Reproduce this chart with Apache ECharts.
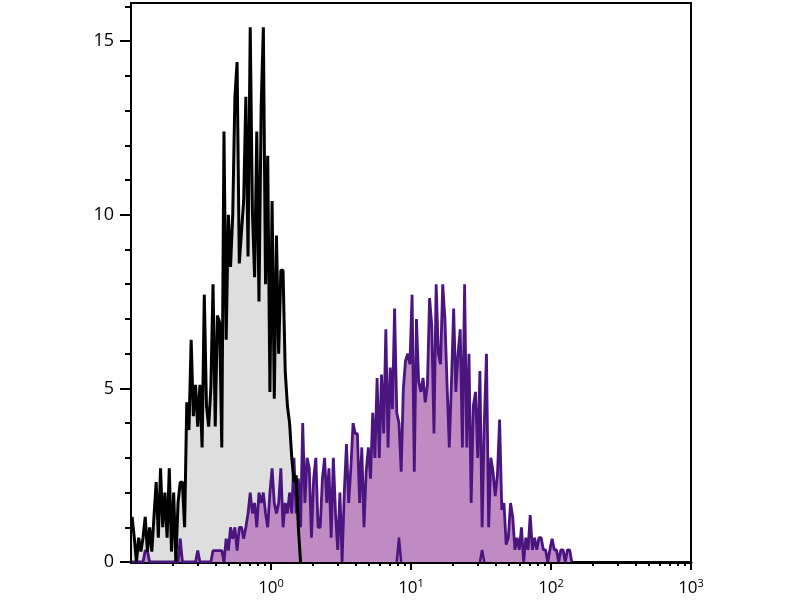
<!DOCTYPE html>
<html>
<head>
<meta charset="utf-8">
<script src="https://cdn.jsdelivr.net/npm/echarts@6/dist/echarts.min.js"></script>
<style>html,body{margin:0;padding:0;background:#fff}#c{width:800px;height:600px}</style>
</head>
<body>
<div id="c"></div>
<script>
// Histogram channels: 64 channels per decade, first channel starts at 10^-1
const channelsPerDecade = 64;
const firstDecade = -1;

// Control (grey) histogram, channel 0 upward
const controlCounts = [
  1.3,0.7,0,0.7,0.3,0.7,1.3,0.3,1.0,0.3,
  1.3,2.3,0.7,2.7,1.0,2.0,0.7,2.7,0.3,2.0,
  0,1.7,2.3,2.3,1.0,4.6,3.8,6.4,4.2,5.1,
  3.9,5.1,3.3,7.7,4.5,3.9,5.0,8.0,3.9,7.1,
  6.9,3.3,12.4,6.4,10.0,8.5,10.0,13.4,14.4,8.6,
  9.5,10.4,13.4,8.8,15.4,10.1,8.2,12.4,7.5,13.1,
  15.4,8.0,11.7,4.9,10.4,4.7,9.4,6.0,8.4,8.4,
  5.5,4.5,4.0,3.0,2.3,2.5,1.0,0
];

// Stained (purple) histogram, channel 0 upward
const stainedCounts = [
  0,0,0,0,0,0,0.33,0.33,0,0,
  0,0,0,0,0,0,0,0,0,0,
  0,0,0.67,0,0,0,0,0,0,0,
  0.33,0,0,0,0,0,0,0.33,0.33,0.33,
  0.33,0.33,0,0.67,0.33,1.0,0.67,1.0,0.33,1.0,
  1.0,0.67,1.0,1.4,2.0,1.4,1.7,1.0,2.0,1.7,
  2.0,1.4,1.0,2.0,2.7,1.7,1.4,1.7,2.7,1.0,
  1.7,1.4,2.0,1.4,3.0,1.4,2.4,1.0,4.0,1.7,
  3.0,2.7,0.7,2.4,3.0,1.0,1.0,2.4,3.0,1.7,
  2.7,0.7,3.0,1.4,0.35,2.0,0,2.0,3.4,1.7,
  2.7,4.0,3.7,3.7,1.7,3.3,1.0,2.6,3.3,2.4,
  4.3,3.0,5.3,3.0,5.4,3.7,6.7,3.3,5.6,4.4,
  7.3,4.3,4.0,2.6,5.0,5.8,6.0,5.7,7.7,2.6,
  7.0,5.2,4.9,5.3,4.6,5.1,7.6,6.8,3.7,8.0,
  6.0,5.7,8.0,7.0,5.1,3.3,5.2,7.3,4.9,6.0,
  6.7,3.3,8.0,3.3,6.0,1.7,4.5,4.9,3.0,5.5,
  1.0,4.0,6.0,1.0,3.0,2.6,1.9,2.5,4.1,1.5,
  1.7,0.5,0.7,1.7,1.3,0.35,0.7,0.35,1.0,0,
  0.7,0.35,1.35,0.35,0.7,0.35,0.7,0.7,0.35,0.35,
  0,0.35,0.67,0.35,0.35,0,0.35,0.35,0,0.35,
  0.35,0
];

// small dark marks at the baseline inside the purple area: [channel, height]
const baselineMarks = [[122, 0.7], [160, 0.35]];

const yMax = 16.1;
const yMajorTicks = [0, 5, 10, 15];
const yMinorTicks = [1,2,3,4,6,7,8,9,11,12,13,14,16];
const xMajorTicks = [1, 10, 100, 1000];
const xMinorTicks = [0.2,0.3,0.4,0.5,0.6,0.7,0.8,0.9,2,3,4,5,6,7,8,9,20,30,40,50,60,70,80,90,200,300,400,500,600,700,800,900];

function channelValue(i) {
  return Math.pow(10, firstDecade + (i + 0.5) / channelsPerDecade);
}
function toPairs(counts) {
  return counts.map((c, i) => [channelValue(i), c]);
}
const markData = [];
baselineMarks.forEach(([ch, h]) => {
  markData.push([channelValue(ch - 1), 0], [channelValue(ch), h], [channelValue(ch + 1), 0], [channelValue(ch + 1), null]);
});

const FONT = '"Open Sans", "DejaVu Sans", sans-serif';
const chart = echarts.init(document.getElementById('c'), null, {renderer: 'canvas'});
chart.setOption({
  animation: false,
  backgroundColor: '#fff',
  grid: {left: 131, top: 3, width: 560, height: 559, show: true, borderColor: '#000', borderWidth: 2, backgroundColor: 'transparent'},
  xAxis: [{
    type: 'log', logBase: 10, min: 0.1, max: 1000,
    axisLine: {show: true, lineStyle: {color: '#000', width: 3}},
    axisTick: {show: true, customValues: xMajorTicks, length: 8, lineStyle: {color: '#000', width: 2}},
    axisLabel: {
      customValues: xMajorTicks, margin: 16, color: '#000',
      formatter: function (v) { return '{b|10}{s|' + Math.round(Math.log10(v)) + '}'; },
      rich: {
        b: {fontFamily: FONT, fontSize: 17, color: '#000', lineHeight: 20},
        s: {fontFamily: FONT, fontSize: 11, color: '#000', verticalAlign: 'top', lineHeight: 20, padding: [0, 0, 6, 0]}
      }
    },
    splitLine: {show: false}
  }, {
    type: 'log', logBase: 10, min: 0.1, max: 1000, position: 'bottom',
    axisLine: {show: false},
    axisTick: {show: true, customValues: xMinorTicks, length: 4, lineStyle: {color: '#000', width: 2}},
    axisLabel: {show: false},
    splitLine: {show: false}
  }],
  yAxis: [{
    type: 'value', min: 0, max: yMax,
    axisLine: {show: true, lineStyle: {color: '#000', width: 2}},
    axisTick: {show: true, customValues: yMajorTicks, length: 11, lineStyle: {color: '#000', width: 2}},
    axisLabel: {customValues: yMajorTicks, margin: 17, color: '#000', fontFamily: FONT, fontSize: 18},
    splitLine: {show: false}
  }, {
    type: 'value', min: 0, max: yMax, position: 'left',
    axisLine: {show: false},
    axisTick: {show: true, customValues: yMinorTicks, length: 6, lineStyle: {color: '#000', width: 2}},
    axisLabel: {show: false},
    splitLine: {show: false}
  }],
  series: [{
    name: 'control fill', type: 'line', data: toPairs(controlCounts), showSymbol: false, silent: true,
    lineStyle: {width: 0, opacity: 0}, areaStyle: {color: '#dedede', opacity: 1}, z: 1
  }, {
    name: 'stained', type: 'line', data: toPairs(stainedCounts), showSymbol: false, silent: true,
    lineStyle: {color: '#4b1580', width: 2.8}, areaStyle: {color: '#c08ac2', opacity: 1}, z: 2
  }, {
    name: 'marks', type: 'line', data: markData, showSymbol: false, silent: true, connectNulls: false,
    lineStyle: {color: '#4b1580', width: 2.5}, z: 3
  }, {
    name: 'control', type: 'line', data: toPairs(controlCounts), showSymbol: false, silent: true,
    lineStyle: {color: '#000', width: 3}, z: 4
  }]
});
</script>
</body>
</html>
